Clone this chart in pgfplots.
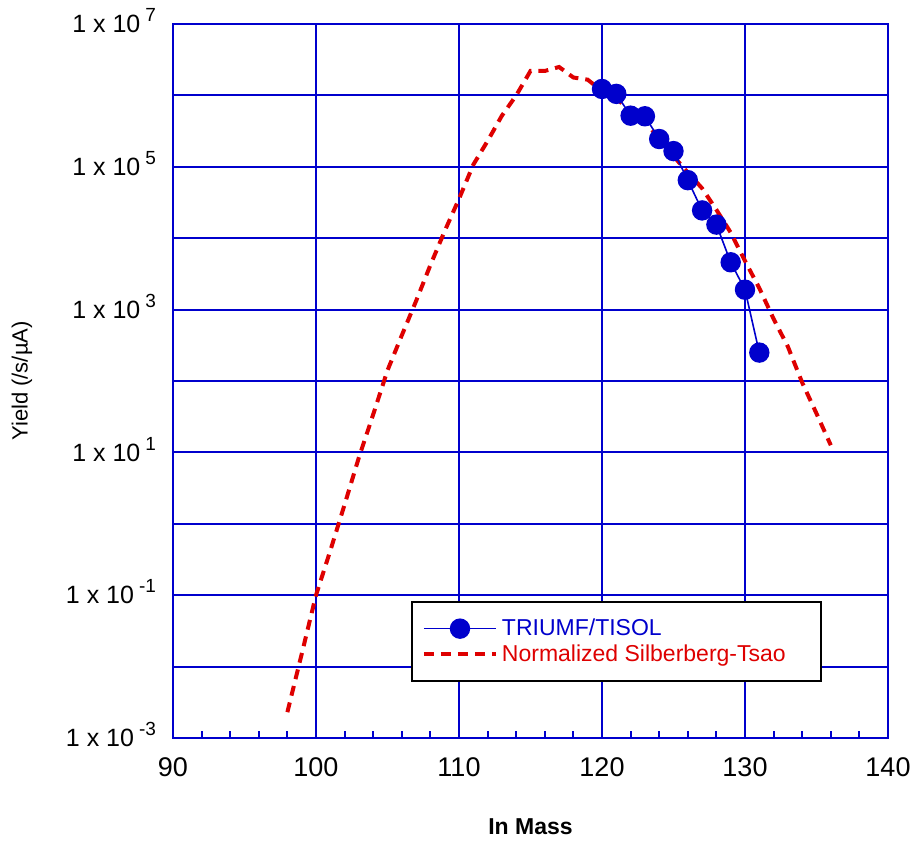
\documentclass[border=0pt]{standalone}
\usepackage{fontspec}
\setmainfont{Liberation Sans}
\usepackage{pgfplots}
\pgfplotsset{compat=1.18}

\definecolor{gridblue}{RGB}{0,0,205}
\definecolor{dotblue}{RGB}{0,0,204}
\definecolor{curvered}{RGB}{222,0,0}

% "1 x 10^n" tick label, exponent set a little apart as in the original
\newcommand{\tl}[1]{{\fontsize{12.5}{14}\selectfont 1 x 10\hspace{2.5pt}\smash{\raisebox{5.5pt}{\fontsize{9.5}{10}\selectfont #1}}}}

\begin{document}
\begin{tikzpicture}
\begin{axis}[
  width=357.5pt, height=357pt, scale only axis,
  ymode=log,
  xmin=90, xmax=140, ymin=1e-3, ymax=1e7,
  xtick={90,100,110,120,130,140},
  minor x tick num=4,
  ytick={1e-3,1e-2,1e-1,1,10,100,1000,1e4,1e5,1e6,1e7},
  yticklabels={\tl{-3},,\tl{-1},,\tl{1},,\tl{3},,\tl{5},,\tl{7}},
  yminorticks=false,
  tick pos=left,
  tick align=inside,
  major tick length=0pt,
  minor tick length=3.5pt,
  tick style={gridblue, line width=1pt},
  axis line style={gridblue, line width=1pt},
  grid=major,
  major grid style={gridblue, line width=1pt},
  /pgf/number format/assume math mode=true,
  x tick label style={font=\fontsize{13.5}{15}\selectfont, text=black, yshift=-6.5pt},
  y tick label style={text=black, xshift=-5pt},
  xlabel={\bfseries In Mass},
  ylabel={Yield (/s/µA)},
  every axis x label/.style={at={(rel axis cs:0.5,0)}, anchor=center, yshift=-44.5pt,
    font=\fontsize{11.5}{13}\selectfont},
  every axis y label/.style={at={(rel axis cs:0,0.5)}, anchor=center, rotate=90, yshift=75.5pt,
    font=\fontsize{11}{13}\selectfont},
  reverse legend,
  legend cell align=left,
  legend style={at={(rel axis cs:0.333,0.192)}, anchor=north west,
    draw=black, line width=0.9pt, fill=white,
    font=\fontsize{11.5}{13}\selectfont,
    inner xsep=5pt, inner ysep=6.5pt, row sep=-1pt},
  legend image code/.code={%
    \draw[mark repeat=2,mark phase=2,#1] plot coordinates {(0pt,0pt) (18pt,0pt) (36pt,0pt)};},
]
% normalized Silberberg-Tsao
\addplot[curvered, line width=2pt, dash pattern=on 5pt off 3.5pt] coordinates {
  (98,2.3e-3) (99,1.5e-2) (100,1e-1) (101,0.42) (102,1.86) (103,8.5)
  (104,34) (105,141) (106,436) (107,1320) (108,4200) (109,1.26e4)
  (110,3.55e4) (111,1.07e5) (112,2.3e5) (113,5.2e5) (114,1.0e6)
  (115,2.2e6) (116,2.2e6) (117,2.5e6) (118,1.78e6) (119,1.66e6)
  (120,1.15e6) (121,8.9e5) (122,6.3e5) (123,4.5e5) (124,2.4e5)
  (125,1.41e5) (126,8.3e4) (127,5.0e4) (128,2.5e4) (129,1.2e4)
  (130,4800) (131,2000) (132,741) (133,302) (134,95) (135,35) (136,12.6)
};
\addlegendentry{\textcolor{curvered}{Normalized Silberberg-Tsao}\rule{10.5pt}{0pt}}
% TRIUMF/TISOL measured
\addplot[dotblue, line width=0.8pt, mark=*, mark size=4.7pt, mark options={solid, fill=dotblue, draw=dotblue}] coordinates {
  (120,1.23e6) (121,1.05e6) (122,5.2e5) (123,5.1e5) (124,2.45e5)
  (125,1.66e5) (126,6.5e4) (127,2.45e4) (128,1.55e4) (129,4600)
  (130,1900) (131,250)
};
\addlegendentry{\textcolor{dotblue}{TRIUMF/TISOL}}
\end{axis}
% page size as in the original: margins round the axis box
\pgfresetboundingbox
\path (current axis.south west) +(-86.5pt,-51.5pt) (current axis.north east) +(11pt,12pt);
\end{tikzpicture}
\end{document}
